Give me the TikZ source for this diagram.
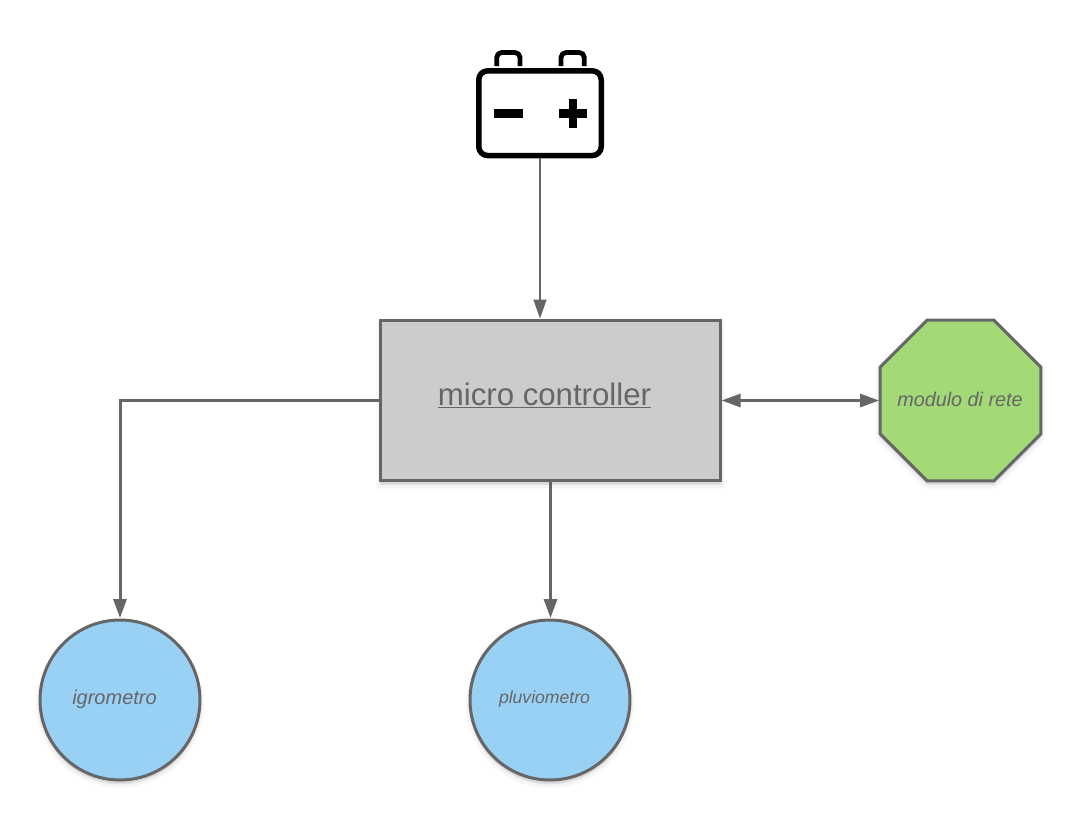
\documentclass[tikz,border=0pt]{standalone}
\usepackage{fontspec}
\setmainfont{Liberation Sans}
\usetikzlibrary{arrows.meta,shapes.geometric}
\definecolor{ink}{HTML}{666666}
\definecolor{boxgrey}{HTML}{CCCCCC}
\definecolor{leaf}{HTML}{A3D977}
\definecolor{sky}{HTML}{99D1F5}
\tikzset{
  softshadow/.style={
    preaction={draw=black,fill=black,opacity=.018,line width=9pt,transform canvas={yshift=-4pt}},
    preaction={draw=black,fill=black,opacity=.025,line width=6pt,transform canvas={yshift=-4pt}},
    preaction={draw=black,fill=black,opacity=.035,line width=3pt,transform canvas={yshift=-3pt}}},
  shapebase/.style={draw=ink,line width=3pt,inner sep=0pt,outer sep=0pt,softshadow},
  ctrlbox/.style={shapebase,rectangle,fill=boxgrey,minimum width=340pt,minimum height=160pt},
  sensor/.style={shapebase,circle,fill=sky,minimum size=160pt},
  netmod/.style={shapebase,regular polygon,regular polygon sides=8,fill=leaf,minimum size=174pt},
  wire/.style={draw=ink,line width=3pt,-{Triangle[length=19pt,width=13pt]},shorten >=2pt},
  thinwire/.style={draw=ink,line width=1.5pt,-{Triangle[length=19pt,width=13pt]},shorten >=2pt},
  duplex/.style={draw=ink,line width=3pt,{Triangle[length=19pt,width=13pt]}-{Triangle[length=19pt,width=13pt]},shorten >=1pt,shorten <=1pt},
  tag/.style={text=ink,inner sep=0pt,font=\itshape},
  batline/.style={draw=black,line width=4.8pt,line join=round}
}
\begin{document}
\begin{tikzpicture}[x=1pt,y=-1pt]
\useasboundingbox (0,0) rectangle (1080,820);
\fill[white] (0,0) rectangle (1080,820);
% battery
\node[draw=black,line width=5.5pt,rounded corners=9pt,minimum width=122.5pt,minimum height=84.75pt,inner sep=0pt,outer sep=2.75pt] (batt) at (540,113.2) {};
\draw[batline,rounded corners=5pt] (496.7,66) -- (496.7,52.5) -- (520,52.5) -- (520,66);
\draw[batline,rounded corners=5pt] (561,66) -- (561,52.5) -- (584.3,52.5) -- (584.3,66);
\fill[black] (494,109.3) rectangle (522.7,117.8);
\fill[black] (558.7,109.3) rectangle (587,117.8);
\fill[black] (568.7,99) rectangle (577,127.7);
% shapes
\node[ctrlbox] (mcu) at (550.5,400.5) {};
\node[netmod] (net) at (960.5,400.5) {};
\node[sensor] (igro) at (120,700) {};
\node[sensor] (pluv) at (550,700) {};
% texts
\node[text=ink,inner sep=0pt,font=\fontsize{31.2}{34}\selectfont] (mcutext) at (544.5,395) {\underline{micro controller}};
\node[tag,font=\itshape\fontsize{19.8}{22}\selectfont] (nettext) at (960,399) {modulo di rete};
\node[tag,font=\itshape\fontsize{20}{22}\selectfont] (igrotext) at (114.5,699.5) {igrometro};
\node[tag,font=\itshape\fontsize{17.6}{20}\selectfont] (pluvtext) at (544.5,698.5) {pluviometro};
% connectors
\draw[thinwire] (batt.south -| 540,0) -- (mcu.north -| 540,0);
\draw[wire] (mcu.west) -- (igro.north |- mcu.west) -- (igro.north);
\draw[wire] (mcu.south) -- (pluv.north -| mcu.south);
\draw[duplex] (mcu.east) -- (net.west);
\end{tikzpicture}
\end{document}
